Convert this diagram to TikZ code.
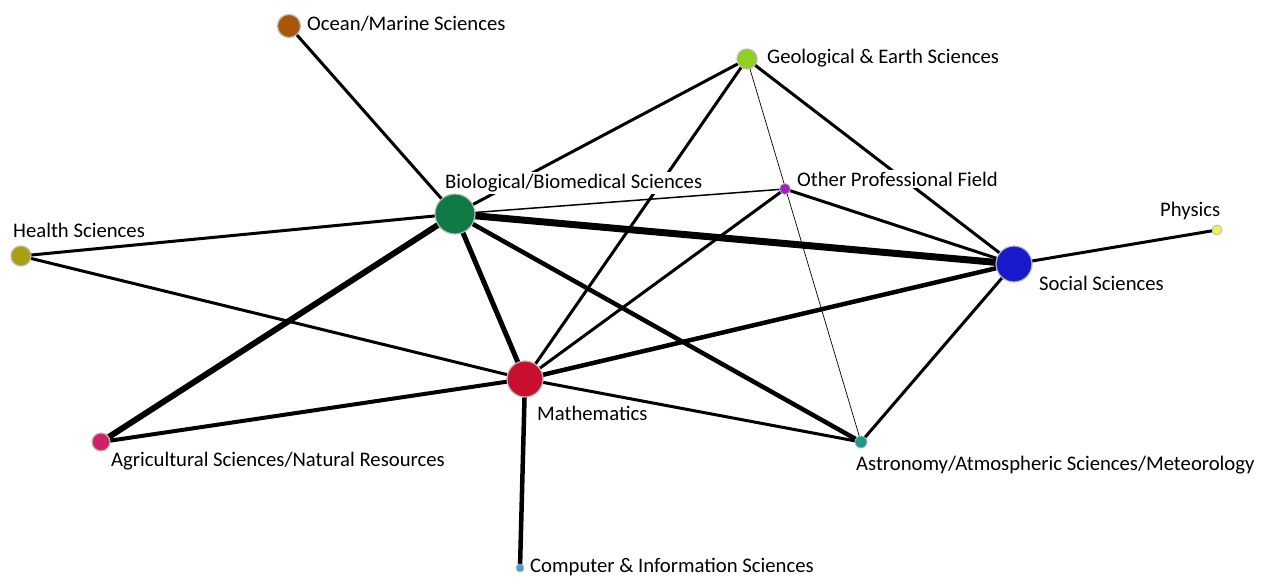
\documentclass[tikz,border=0pt]{standalone}
\usepackage{fontspec}
\setmainfont{Carlito}
\usetikzlibrary{backgrounds}
\definecolor{cOcean}{HTML}{A8570A}
\definecolor{cGeo}{HTML}{8FD11E}
\definecolor{cBio}{HTML}{0F7A45}
\definecolor{cOther}{HTML}{A020C0}
\definecolor{cHealth}{HTML}{A8A010}
\definecolor{cPhys}{HTML}{F0F050}
\definecolor{cSoc}{HTML}{1A1ACC}
\definecolor{cMath}{HTML}{C8102E}
\definecolor{cAgri}{HTML}{D0206A}
\definecolor{cAstro}{HTML}{1A9A8A}
\definecolor{cComp}{HTML}{4AA0D0}
\tikzset{
  vert/.style={circle, inner sep=0pt, draw=gray!55, line width=1.2pt},
  lab/.style={anchor=west, fill=white, inner xsep=2pt, inner ysep=2pt, font=\fontsize{20.7}{22}\selectfont},
  edge/.style={line width=3pt, black},
}
\begin{document}
\begin{tikzpicture}[x=1pt,y=-1pt]
\useasboundingbox (0,0) rectangle (1265,576);
% labels
\node[lab] (locean) at (305,24) {Ocean/Marine Sciences};
\node[lab] (lgeo) at (765,58) {Geological \& Earth Sciences};
\node[lab] (lbio) at (443,183) {Biological/Biomedical Sciences};
\node[lab] (lother) at (795,179) {Other Professional Field};
\node[lab] (lhealth) at (11,230) {Health Sciences};
\node[lab] (lphys) at (1158,211) {Physics};
\node[lab] (lsoc) at (1037,283) {Social Sciences};
\node[lab] (lmath) at (535,413) {Mathematics};
\node[lab] (lagri) at (109,461) {Agricultural Sciences/Natural Resources};
\node[lab] (lastro) at (854,465) {Astronomy/Atmospheric Sciences/Meteorology};
\node[lab] (lcomp) at (528,567) {Computer \& Information Sciences};
% vertices
\node[vert, minimum size=23pt, fill=cOcean] (ocean) at (289,26) {};
\node[vert, minimum size=20pt, fill=cGeo] (geo) at (747,59) {};
\node[vert, minimum size=40pt, fill=cBio] (bio) at (455,214) {};
\node[vert, minimum size=11pt, fill=cOther, line width=0.8pt] (other) at (785,189) {};
\node[vert, minimum size=20pt, fill=cHealth] (health) at (21,256) {};
\node[vert, minimum size=10pt, fill=cPhys, line width=0.8pt] (phys) at (1217,230) {};
\node[vert, minimum size=36pt, fill=cSoc] (soc) at (1014,264) {};
\node[vert, minimum size=36pt, fill=cMath] (math) at (525,379) {};
\node[vert, minimum size=18pt, fill=cAgri] (agri) at (101,442) {};
\node[vert, minimum size=12pt, fill=cAstro, line width=0.8pt] (astro) at (861,442) {};
\node[vert, minimum size=8pt, fill=cComp, line width=0.6pt] (comp) at (520,568) {};
% edges
\begin{pgfonlayer}{background}
\draw[edge] (ocean.center) -- (bio.center);
\draw[edge] (geo.center) -- (bio.center);
\draw[edge] (geo.center) -- (math.center);
\draw[edge, line width=0.7pt] (geo.center) -- (astro.center);
\draw[edge] (geo.center) -- (soc.center);
\draw[edge, line width=1.5pt] (bio.center) -- (other.center);
\draw[edge, line width=7pt] (bio.center) -- (soc.center);
\draw[edge] (bio.center) -- (health.center);
\draw[edge, line width=6pt] (bio.center) -- (agri.center);
\draw[edge, line width=5pt] (bio.center) -- (math.center);
\draw[edge, line width=4.5pt] (bio.center) -- (astro.center);
\draw[edge] (other.center) -- (math.center);
\draw[edge] (other.center) -- (soc.center);
\draw[edge] (health.center) -- (math.center);
\draw[edge, line width=4pt] (agri.center) -- (math.center);
\draw[edge, line width=4.5pt] (math.center) -- (soc.center);
\draw[edge] (math.center) -- (astro.center);
\draw[edge, line width=4.5pt] (math.center) -- (comp.center);
\draw[edge] (soc.center) -- (astro.center);
\draw[edge] (soc.center) -- (phys.center);
\end{pgfonlayer}
\end{tikzpicture}
\end{document}
